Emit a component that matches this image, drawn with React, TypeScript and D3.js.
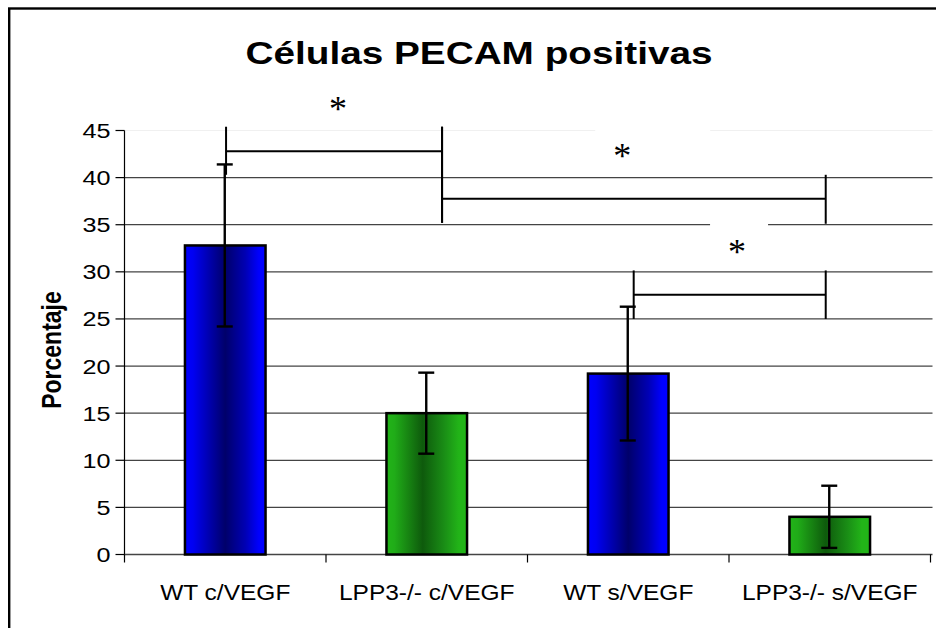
import React from 'react';
import * as d3 from 'd3';

const categories = ['WT c/VEGF', 'LPP3-/- c/VEGF', 'WT s/VEGF', 'LPP3-/- s/VEGF'];
const means = [32.8, 15.0, 19.2, 4.0];
const errors = [8.6, 4.3, 7.1, 3.3];
const groups = ['blue', 'green', 'blue', 'green'];
const yTicks = [0, 5, 10, 15, 20, 25, 30, 35, 40, 45];

// significance brackets: x in category units (0..4), y in percent
const brackets = [
  { x1: 0.504, x2: 1.576, y: 42.8, left: [40.3, 45.4], right: [35.2, 45.4] },
  { x1: 1.576, x2: 3.48, y: 37.75, left: [35.2, 45.4], right: [35.1, 40.3] },
  { x1: 2.527, x2: 3.48, y: 27.57, left: [25, 30.15], right: [25, 30.15] },
];
const stars = [
  { x: 1.06, y: 47.7 },
  { x: 2.47, y: 42.7 },
  { x: 3.04, y: 32.56 },
];

const W = 936;
const H = 628;
const plot = { left: 124.5, right: 930.5, top: 130.5, bottom: 554.5 };
const font = 'Liberation Sans, Arial, sans-serif';

// white text boxes behind stars that hide the gridlines (px relative to star)
const starBoxes = [null, { l: -27, r: 88, t: -24, b: 20 }, { l: -27, r: 31, t: -27, b: 18 }];

const gradients: Record<string, [number, string][]> = {
  blue: [[0, '#0000ff'], [0.1, '#0000f2'], [0.5, '#00006a'], [0.75, '#0000b4'], [0.92, '#0000ff'], [1, '#0000ff']],
  green: [[0, '#22b418'], [0.1, '#20ac18'], [0.45, '#0e5a0c'], [0.72, '#1a8e16'], [0.9, '#22b418'], [1, '#22b418']],
};

const App: React.FC = () => {
  const y = d3.scaleLinear().domain([0, 45]).range([plot.bottom, plot.top]);
  const x = d3.scaleBand<string>()
    .domain(categories)
    .range([plot.left, plot.right])
    .paddingInner(0.6)
    .paddingOuter(0.3);
  const cx = d3.scaleLinear().domain([0, 4]).range([plot.left, plot.right]);
  const step = x.step();
  const bw = x.bandwidth();

  return (
    <svg width={W} height={H} style={{ position: 'absolute', left: 0, top: 0, background: '#fff' }}>
      <defs>
        {Object.entries(gradients).map(([k, stops]) => (
          <linearGradient key={k} id={`grad-${k}`} x1="0" x2="1" y1="0" y2="0">
            {stops.map(([o, c], i) => (
              <stop key={i} offset={o} stopColor={c} />
            ))}
          </linearGradient>
        ))}
      </defs>
      <rect x={0} y={0} width={W} height={H} fill="#fff" />
      <rect x={9.2} y={8.5} width={1000} height={1000} fill="none" stroke="#000" strokeWidth={2.4} />

      <g transform={`translate(479,64) scale(1.27,1)`}>
        <text textAnchor="middle" fontFamily={font} fontWeight="bold" fontSize={30.5}>
          Células PECAM positivas
        </text>
      </g>

      {/* gridlines */}
      {yTicks.filter(t => t > 0).map(t => (
        <line key={t} x1={plot.left} x2={plot.right + 2} y1={y(t)} y2={y(t)}
          stroke={t === 45 ? '#f0f0f0' : '#444'} strokeWidth={1.2} />
      ))}

      {/* star boxes */}
      {stars.map((s, i) => {
        const b = starBoxes[i];
        if (!b) return null;
        const sx = cx(s.x);
        const sy = y(s.y);
        return <rect key={i} x={sx + b.l} y={sy + b.t} width={b.r - b.l} height={b.b - b.t} fill="#fff" />;
      })}

      {/* axes */}
      <line x1={plot.left} x2={plot.left} y1={plot.top} y2={plot.bottom + 1} stroke="#000" strokeWidth={1.2} />
      <line x1={plot.left} x2={plot.right + 2} y1={plot.bottom} y2={plot.bottom} stroke="#444" strokeWidth={1.3} />
      {yTicks.map(t => (
        <g key={t}>
          <line x1={plot.left - 9} x2={plot.left} y1={y(t)} y2={y(t)} stroke="#000" strokeWidth={1.2} />
          <g transform={`translate(${plot.left - 14},${y(t) + 7.5}) scale(1.2,1)`}>
            <text textAnchor="end" fontFamily={font} fontSize={21}>{t}</text>
          </g>
        </g>
      ))}
      {d3.range(categories.length + 1).map(i => (
        <line key={i} x1={plot.left + i * step} x2={plot.left + i * step} y1={plot.bottom} y2={plot.bottom + 8}
          stroke="#000" strokeWidth={1.2} />
      ))}
      {categories.map(c => (
        <g key={c} transform={`translate(${(x(c) ?? 0) + bw / 2},600) scale(1.14,1)`}>
          <text textAnchor="middle" fontFamily={font} fontSize={21.5}>{c}</text>
        </g>
      ))}

      <g transform={`translate(61,350) rotate(-90) scale(1,1.18)`}>
        <text textAnchor="middle" fontFamily={font} fontWeight="bold" fontSize={23}>Porcentaje</text>
      </g>

      {/* bars */}
      {categories.map((c, i) => (
        <rect key={c} x={x(c)} y={y(means[i])} width={bw} height={y(0) - y(means[i])}
          fill={`url(#grad-${groups[i]})`} stroke="#000" strokeWidth={2.5} />
      ))}

      {/* error bars */}
      {categories.map((c, i) => {
        const mx = (x(c) ?? 0) + bw / 2 - 0.5;
        const hi = y(means[i] + errors[i]);
        const lo = y(means[i] - errors[i]);
        return (
          <g key={c} stroke="#000" strokeWidth={2.4}>
            <line x1={mx} x2={mx} y1={hi} y2={lo} />
            <line x1={mx - 8} x2={mx + 8} y1={hi} y2={hi} />
            <line x1={mx - 8} x2={mx + 8} y1={lo} y2={lo} />
          </g>
        );
      })}

      {/* significance brackets */}
      {brackets.map((b, i) => (
        <g key={i} stroke="#000" strokeWidth={2}>
          <line x1={cx(b.x1)} x2={cx(b.x1)} y1={y(b.left[1])} y2={y(b.left[0])} />
          <line x1={cx(b.x2)} x2={cx(b.x2)} y1={y(b.right[1])} y2={y(b.right[0])} />
          <line x1={cx(b.x1)} x2={cx(b.x2)} y1={y(b.y)} y2={y(b.y)} />
        </g>
      ))}
      {stars.map((s, i) => (
        <text key={i} x={cx(s.x)} y={y(s.y) + 16} textAnchor="middle"
          fontFamily="Liberation Serif, Times New Roman, serif" fontSize={36}>*</text>
      ))}
    </svg>
  );
};

export default App;
